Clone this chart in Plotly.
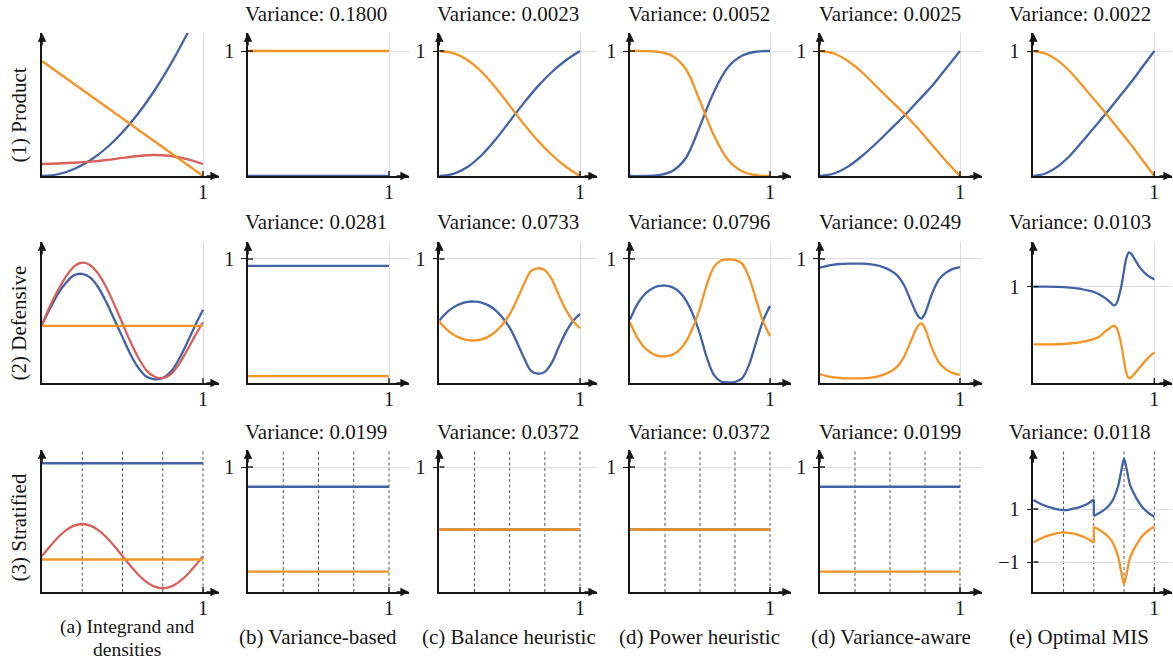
import plotly.graph_objects as go

W, H = 1173, 662
FONT = "Liberation Serif, DejaVu Serif, serif"
INK = "#151515"
BLUE = "#4262a6"
ORANGE = "#f39425"
RED = "#d6605a"
GRID = "#dedede"
DASH = "#555555"
TEXT_SIZE = 21
TICK_SIZE = 20

# ---------------- sample grids ----------------
X2 = [0.0, 1.0]
X11 = [0.0, 0.1, 0.2, 0.3, 0.4, 0.5, 0.6, 0.7, 0.8, 0.9, 1.0]
X21 = [0.0, 0.05, 0.1, 0.15, 0.2, 0.25, 0.3, 0.35, 0.4, 0.45, 0.5,
       0.55, 0.6, 0.65, 0.7, 0.75, 0.8, 0.85, 0.9, 0.95, 1.0]

# ---------------- (1) Product ----------------
PROD_F = [0.096, 0.100, 0.106, 0.115, 0.128, 0.145, 0.160, 0.168, 0.160, 0.135, 0.096]
PROD_P1 = [0.0, 0.014, 0.056, 0.126, 0.224, 0.35, 0.504, 0.686, 0.896, 1.134, 1.40]
PROD_P2 = [0.92, 0.0]
PROD_VB_W1 = [0.0, 0.0]
PROD_VB_W2 = [1.0, 1.0]
PROD_BAL_W1 = [0.0, 0.017, 0.072, 0.166, 0.292, 0.437, 0.583, 0.717, 0.832, 0.926, 1.0]
PROD_BAL_W2 = [1.0, 0.983, 0.928, 0.834, 0.708, 0.563, 0.417, 0.283, 0.168, 0.074, 0.0]
PROD_POW_W1 = [0.0, 0.0003, 0.006, 0.038, 0.146, 0.40, 0.675, 0.87, 0.962, 0.994, 1.0]
PROD_POW_W2 = [1.0, 0.9997, 0.994, 0.962, 0.854, 0.60, 0.325, 0.13, 0.038, 0.006, 0.0]
PROD_VA_W1 = [0.0, 0.02, 0.075, 0.16, 0.26, 0.37, 0.48, 0.60, 0.72, 0.86, 1.0]
PROD_VA_W2 = [1.0, 0.98, 0.92, 0.83, 0.72, 0.61, 0.50, 0.38, 0.25, 0.12, 0.0]
PROD_OPT_W1 = [0.0, 0.02, 0.075, 0.16, 0.27, 0.385, 0.50, 0.62, 0.74, 0.87, 1.0]
PROD_OPT_W2 = [1.0, 0.98, 0.925, 0.84, 0.73, 0.615, 0.50, 0.38, 0.26, 0.13, 0.0]

# ---------------- (2) Defensive ----------------
DEF_F = [0.47, 0.62, 0.75, 0.86, 0.94, 0.97, 0.95, 0.88, 0.77, 0.63, 0.48,
         0.33, 0.20, 0.10, 0.05, 0.04, 0.07, 0.15, 0.26, 0.38, 0.49]
DEF_P1 = [0.47, 0.60, 0.72, 0.81, 0.87, 0.88, 0.85, 0.77, 0.65, 0.51, 0.37,
          0.23, 0.12, 0.05, 0.03, 0.04, 0.09, 0.19, 0.32, 0.46, 0.59]
DEF_P2 = [0.46, 0.46]
DEF_VB_W1 = [0.945, 0.945]
DEF_VB_W2 = [0.055, 0.055]
DEF_BAL_W1 = [0.505, 0.566, 0.610, 0.638, 0.654, 0.657, 0.649, 0.626, 0.586, 0.526, 0.446,
              0.333, 0.207, 0.10, 0.075, 0.09, 0.164, 0.292, 0.410, 0.500, 0.558]
DEF_BAL_W2 = [0.495, 0.434, 0.390, 0.362, 0.346, 0.343, 0.351, 0.374, 0.414, 0.474, 0.554,
              0.667, 0.793, 0.90, 0.925, 0.91, 0.836, 0.708, 0.590, 0.500, 0.442]
DEF_POW_W1 = [0.511, 0.630, 0.710, 0.756, 0.782, 0.785, 0.773, 0.737, 0.666, 0.551, 0.393,
              0.200, 0.064, 0.012, 0.004, 0.008, 0.037, 0.146, 0.326, 0.500, 0.622]
DEF_POW_W2 = [0.489, 0.370, 0.290, 0.244, 0.218, 0.215, 0.227, 0.263, 0.334, 0.449, 0.607,
              0.800, 0.936, 0.988, 0.996, 0.992, 0.963, 0.854, 0.674, 0.500, 0.378]
DEF_VA_X = [0.0, 0.05, 0.1, 0.15, 0.2, 0.25, 0.3, 0.35, 0.4, 0.45, 0.5,
            0.55, 0.6, 0.65, 0.7, 0.725, 0.75, 0.8, 0.85, 0.9, 0.95, 1.0]
DEF_VA_W1 = [0.93, 0.945, 0.955, 0.96, 0.963, 0.963, 0.962, 0.958, 0.95, 0.935, 0.91,
             0.87, 0.79, 0.66, 0.54, 0.52, 0.56, 0.72, 0.835, 0.89, 0.92, 0.935]
DEF_VA_W2 = [0.07, 0.055, 0.045, 0.04, 0.037, 0.037, 0.038, 0.042, 0.05, 0.065, 0.09,
             0.13, 0.21, 0.34, 0.46, 0.48, 0.44, 0.28, 0.165, 0.11, 0.08, 0.065]
DEF_OPT_X = [0.0, 0.1, 0.2, 0.3, 0.4, 0.45, 0.5, 0.55, 0.6, 0.63, 0.65, 0.67,
             0.69, 0.71, 0.73, 0.75, 0.77, 0.79, 0.81, 0.84, 0.88, 0.94, 1.0]
DEF_OPT_W1 = [1.0, 1.0, 0.998, 0.99, 0.975, 0.96, 0.945, 0.915, 0.875, 0.845, 0.82, 0.805,
              0.83, 0.91, 1.02, 1.17, 1.30, 1.355, 1.34, 1.28, 1.20, 1.12, 1.075]
DEF_OPT_W2 = [0.40, 0.40, 0.402, 0.41, 0.425, 0.44, 0.455, 0.485, 0.54, 0.565, 0.585, 0.595,
              0.57, 0.49, 0.38, 0.23, 0.10, 0.048, 0.06, 0.10, 0.16, 0.25, 0.317]

# ---------------- (3) Stratified ----------------
STRATA = [0.25, 0.5, 0.75, 1.0]
STRAT_F = [0.287, 0.366, 0.438, 0.495, 0.531, 0.544, 0.531, 0.495, 0.438, 0.366, 0.287,
           0.208, 0.136, 0.079, 0.043, 0.030, 0.043, 0.079, 0.136, 0.208, 0.287]
STRAT_P1 = [1.03, 1.03]
STRAT_P2 = [0.26, 0.26]
STRAT_VB_W1 = [0.842, 0.842]
STRAT_VB_W2 = [0.163, 0.163]
STRAT_BAL_W1 = [0.5, 0.5]
STRAT_BAL_W2 = [0.5, 0.5]
STRAT_POW_W1 = [0.5, 0.5]
STRAT_POW_W2 = [0.5, 0.5]
STRAT_VA_W1 = [0.842, 0.842]
STRAT_VA_W2 = [0.163, 0.163]
# optimal weights jump at the stratum boundary x = 0.5: left and right pieces
STRAT_OPT_XL = [0.0, 0.05, 0.1, 0.15, 0.2, 0.25, 0.3, 0.35, 0.4, 0.45, 0.5]
STRAT_OPT_W1L = [1.34, 1.22, 1.12, 1.05, 0.99, 0.96, 0.98, 1.03, 1.10, 1.20, 1.36]
STRAT_OPT_W2L = [-0.26, -0.14, -0.04, 0.03, 0.09, 0.12, 0.10, 0.05, -0.02, -0.12, -0.28]
STRAT_OPT_XR = [0.5, 0.55, 0.6, 0.65, 0.7, 0.725, 0.75, 0.775, 0.8, 0.85, 0.9, 0.95, 1.0]
STRAT_OPT_W1R = [0.74, 0.86, 1.02, 1.28, 1.85, 2.40, 2.90, 2.42, 1.90, 1.42, 1.08, 0.86, 0.71]
STRAT_OPT_W2R = [0.32, 0.20, 0.04, -0.22, -0.78, -1.33, -1.83, -1.35, -0.83, -0.36, -0.02, 0.19, 0.33]

# ---------------- labels ----------------
ROW_LABELS = ["(1) Product", "(2) Defensive", "(3) Stratified"]
COL_LABELS = [["(a) Integrand and", "densities"], ["(b) Variance-based"],
              ["(c) Balance heuristic"], ["(d) Power heuristic"],
              ["(d) Variance-aware"], ["(e) Optimal MIS"]]
VARIANCES = [
    [None, "0.1800", "0.0023", "0.0052", "0.0025", "0.0022"],
    [None, "0.0281", "0.0733", "0.0796", "0.0249", "0.0103"],
    [None, "0.0199", "0.0372", "0.0372", "0.0199", "0.0118"],
]


def jump(xl, yl, xr, yr):
    """Vertical connector between the last left value and the first right value."""
    return [xl[-1], xr[0]], [yl[-1], yr[0]]


JX1, JY1 = jump(STRAT_OPT_XL, STRAT_OPT_W1L, STRAT_OPT_XR, STRAT_OPT_W1R)
JX2, JY2 = jump(STRAT_OPT_XL, STRAT_OPT_W2L, STRAT_OPT_XR, STRAT_OPT_W2R)

# ---------------- which curves go in which panel ----------------
PANELS = {
    (0, 0): [(X11, PROD_P1, BLUE), (X11, PROD_F, RED), (X2, PROD_P2, ORANGE)],
    (0, 1): [(X2, PROD_VB_W2, ORANGE), (X2, PROD_VB_W1, BLUE)],
    (0, 2): [(X11, PROD_BAL_W1, BLUE), (X11, PROD_BAL_W2, ORANGE)],
    (0, 3): [(X11, PROD_POW_W1, BLUE), (X11, PROD_POW_W2, ORANGE)],
    (0, 4): [(X11, PROD_VA_W1, BLUE), (X11, PROD_VA_W2, ORANGE)],
    (0, 5): [(X11, PROD_OPT_W1, BLUE), (X11, PROD_OPT_W2, ORANGE)],
    (1, 0): [(X21, DEF_P1, BLUE), (X21, DEF_F, RED), (X2, DEF_P2, ORANGE)],
    (1, 1): [(X2, DEF_VB_W1, BLUE), (X2, DEF_VB_W2, ORANGE)],
    (1, 2): [(X21, DEF_BAL_W1, BLUE), (X21, DEF_BAL_W2, ORANGE)],
    (1, 3): [(X21, DEF_POW_W1, BLUE), (X21, DEF_POW_W2, ORANGE)],
    (1, 4): [(DEF_VA_X, DEF_VA_W1, BLUE), (DEF_VA_X, DEF_VA_W2, ORANGE)],
    (1, 5): [(DEF_OPT_X, DEF_OPT_W1, BLUE), (DEF_OPT_X, DEF_OPT_W2, ORANGE)],
    (2, 0): [(X2, STRAT_P1, BLUE), (X21, STRAT_F, RED), (X2, STRAT_P2, ORANGE)],
    (2, 1): [(X2, STRAT_VB_W1, BLUE), (X2, STRAT_VB_W2, ORANGE)],
    (2, 2): [(X2, STRAT_BAL_W1, BLUE), (X2, STRAT_BAL_W2, ORANGE)],
    (2, 3): [(X2, STRAT_POW_W1, BLUE), (X2, STRAT_POW_W2, ORANGE)],
    (2, 4): [(X2, STRAT_VA_W1, BLUE), (X2, STRAT_VA_W2, ORANGE)],
    (2, 5): [(STRAT_OPT_XL, STRAT_OPT_W1L, BLUE), (JX1, JY1, BLUE),
             (STRAT_OPT_XR, STRAT_OPT_W1R, BLUE),
             (STRAT_OPT_XL, STRAT_OPT_W2L, ORANGE), (JX2, JY2, ORANGE),
             (STRAT_OPT_XR, STRAT_OPT_W2R, ORANGE)],
}

# ---------------- geometry (pixels) ----------------
# per column: y-axis x position, x position of value 1, arrow tip
COL_PX = [(42, 203, 219), (248, 389, 409), (439.3, 580, 597),
          (630, 770, 791), (820, 960, 982), (1033.3, 1154.3, 1172)]
# per row: x-axis y position, arrow tip
ROW_PX = [(176, 33), (383, 242), (592, 450)]
ROW_YMAX = [1.144, 1.137, 1.136]
Y_RANGE_OVERRIDE = {(1, 5): [0.0, 1.463], (2, 5): [-2.13, 3.226]}
TITLE_X = [None, 316, 508, 699, 890, 1080]
TITLE_Y = [14, 222, 431.5]
COLLABEL_X = [127, 318, 509, 699, 891, 1079]
ROWLABEL_Y = [115, 323, 528]

fig = go.Figure()
layout = dict(
    width=W, height=H, margin=dict(l=0, r=0, t=0, b=0),
    paper_bgcolor="white", plot_bgcolor="white", showlegend=False,
    font=dict(family=FONT, color=INK, size=TICK_SIZE),
)
shapes, annotations = [], []

for r in range(3):
    for c in range(6):
        n = r * 6 + c + 1
        sfx = "" if n == 1 else str(n)
        xr, yr = "x" + sfx, "y" + sfx
        left, one, tip = COL_PX[c]
        base, top = ROW_PX[r]
        xmax = (tip - left) / (one - left)
        yrange = Y_RANGE_OVERRIDE.get((r, c), [0.0, ROW_YMAX[r]])
        ylo, yhi = yrange

        for xs, ys, col in PANELS[(r, c)]:
            fig.add_trace(go.Scatter(
                x=xs, y=ys, mode="lines", xaxis=xr, yaxis=yr,
                line=dict(color=col, width=2.3, shape="spline", smoothing=0.9),
                hoverinfo="skip", showlegend=False))

        if c == 0:
            ytv = []
        elif (r, c) == (2, 5):
            ytv = [1, -1]
        else:
            ytv = [1]

        layout["xaxis" + sfx] = dict(
            domain=[left / W, tip / W], range=[0, xmax], anchor=yr,
            tickvals=[1], ticktext=["1"], ticks="", ticklabelstandoff=-3,
            showgrid=(r != 2), gridcolor=GRID, gridwidth=1,
            showline=True, linecolor=INK, linewidth=1.5, zeroline=False,
            layer="below traces", fixedrange=True,
            tickfont=dict(family=FONT, size=TICK_SIZE, color=INK))
        layout["yaxis" + sfx] = dict(
            domain=[1 - base / H, 1 - top / H], range=yrange, anchor=xr,
            tickvals=ytv, ticktext=["\u2212" + str(-v) if v < 0 else str(v) for v in ytv],
            ticks="outside" if ytv else "", ticklen=5, tickwidth=1.4,
            tickcolor=INK, ticklabelstandoff=3,
            showgrid=bool(ytv), gridcolor=GRID, gridwidth=1,
            showline=True, linecolor=INK, linewidth=1.5, zeroline=False,
            layer="below traces", fixedrange=True,
            tickfont=dict(family=FONT, size=TICK_SIZE, color=INK))

        # crossing tick mark at x = 1, inner half of the y tick marks
        shapes.append(dict(type="line", xref=xr, yref=yr, x0=1, x1=1,
                           ysizemode="pixel", yanchor=ylo, y0=-5, y1=5,
                           line=dict(color=INK, width=1.4), layer="above"))
        for v in ytv:
            shapes.append(dict(type="line", xref=xr, yref=yr, y0=v, y1=v,
                               xsizemode="pixel", xanchor=0, x0=0, x1=5,
                               line=dict(color=INK, width=1.4), layer="above"))

        # stratum boundaries
        if r == 2:
            for s in STRATA:
                shapes.append(dict(type="line", xref=xr, yref=yr, x0=s, x1=s,
                                   y0=ylo, y1=yhi, layer="below",
                                   line=dict(color=DASH, width=1, dash="3px,2.5px")))

        # arrow heads on both axes
        annotations.append(dict(x=xmax, y=ylo, xref=xr, yref=yr, ax=-14, ay=0,
                                text="", showarrow=True, arrowhead=2, arrowsize=1.15,
                                arrowwidth=1.5, arrowcolor=INK, standoff=0))
        annotations.append(dict(x=0, y=yhi, xref=xr, yref=yr, ax=0, ay=14,
                                text="", showarrow=True, arrowhead=2, arrowsize=1.15,
                                arrowwidth=1.5, arrowcolor=INK, standoff=0))

        if VARIANCES[r][c] is not None:
            annotations.append(dict(
                x=TITLE_X[c] / W, y=1 - TITLE_Y[r] / H, xref="paper", yref="paper",
                text="Variance: " + VARIANCES[r][c], showarrow=False,
                xanchor="center", yanchor="middle",
                font=dict(family=FONT, size=TEXT_SIZE, color=INK)))

for r, lab in enumerate(ROW_LABELS):
    annotations.append(dict(x=18.5 / W, y=1 - ROWLABEL_Y[r] / H, xref="paper", yref="paper",
                            text=lab, textangle=-90, showarrow=False,
                            xanchor="center", yanchor="middle",
                            font=dict(family=FONT, size=TEXT_SIZE, color=INK)))

for c, lines in enumerate(COL_LABELS):
    if len(lines) == 2:
        # two-line label: slightly smaller so the lines stack without touching
        ys, size = [627, 649], 19.5
    else:
        ys, size = [637], TEXT_SIZE
    for line, yp in zip(lines, ys):
        annotations.append(dict(x=COLLABEL_X[c] / W, y=1 - yp / H, xref="paper", yref="paper",
                                text=line, showarrow=False, xanchor="center", yanchor="middle",
                                font=dict(family=FONT, size=size, color=INK)))

layout["shapes"] = shapes
layout["annotations"] = annotations
fig.update_layout(**layout)
fig.write_html("out.html")
